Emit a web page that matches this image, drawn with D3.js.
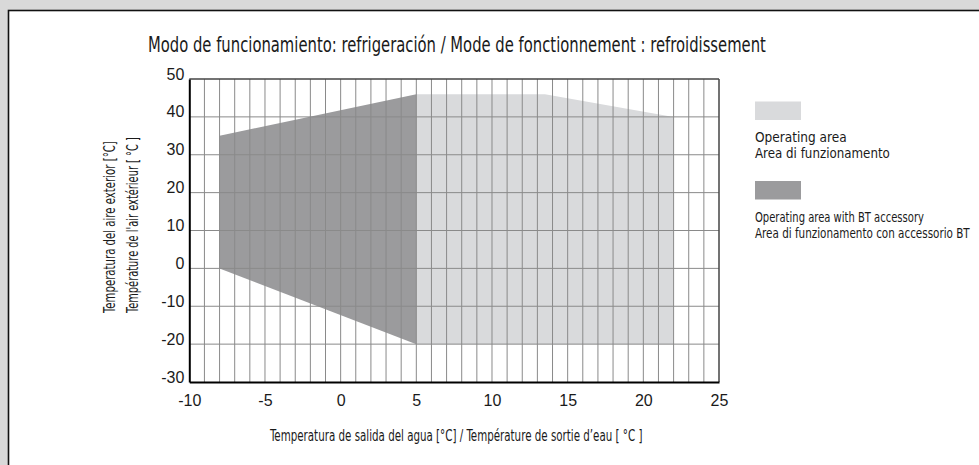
<!DOCTYPE html>
<html>
<head>
<meta charset="utf-8">
<script src="https://cdn.jsdelivr.net/npm/d3@7"></script>
<style>
  body { margin: 0; background: #d9d9d9; }
  .cond { font-family: "DejaVu Sans Condensed", "Liberation Sans Narrow", "DejaVu Sans", sans-serif; font-stretch: condensed; fill: #1a1a1a; }
  .tick text { font-family: "Liberation Sans", Arial, sans-serif; font-size: 16px; fill: #1a1a1a; }
</style>
</head>
<body>
<script>
// chart values
const xTicks = [-10, -5, 0, 5, 10, 15, 20, 25];
const yTicks = [-30, -20, -10, 0, 10, 20, 30, 40, 50];
const operatingArea = [[5, 46], [13.5, 46], [22, 40], [22, -20], [5, -20]];
const btArea = [[-8, 35], [5, 46], [5, -20], [-8, 0]];
const title = "Modo de funcionamiento: refrigeración / Mode de fonctionnement : refroidissement";
const xTitle = "Temperatura de salida del agua [°C] / Température de sortie d’eau [ °C ]";
const yTitles = ["Temperatura del aire exterior [°C]", "Température de l'air extérieur [ °C ]"];
const legendItems = [
  {color: "#d9dadc", lines: ["Operating area", "Area di funzionamento"], widths: [93, 135]},
  {color: "#9b9b9d", lines: ["Operating area with BT accessory", "Area di funzionamento con accessorio BT"], widths: [169, 215]}
];

const width = 979, height = 465;
const svg = d3.select("body").append("svg")
    .attr("width", width)
    .attr("height", height)
    .style("display", "block");

svg.append("rect").attr("width", width).attr("height", height).attr("fill", "#d9d9d9");
svg.append("rect")
    .attr("x", 8.5).attr("y", 10.5)
    .attr("width", width + 20).attr("height", height + 20)
    .attr("fill", "#fff").attr("stroke", "#111").attr("stroke-width", 1.6);

const x = d3.scaleLinear().domain([-10, 25]).range([189.3, 719]);
const y = d3.scaleLinear().domain([-30, 50]).range([382, 79]);

const line = d3.line().x(d => x(d[0])).y(d => y(d[1])).curve(d3.curveLinearClosed);

svg.append("path").datum(operatingArea).attr("d", line).attr("fill", "#d9dadc");
svg.append("path").datum(btArea).attr("d", line).attr("fill", "#9b9b9d");

// grid
svg.append("g").selectAll("line")
  .data(d3.range(-9, 25))
  .join("line")
    .attr("x1", d => x(d)).attr("x2", d => x(d))
    .attr("y1", y(50)).attr("y2", y(-30))
    .attr("stroke", "#8a8a8a").attr("stroke-width", 1);
svg.append("g").selectAll("line")
  .data(d3.range(-20, 50, 10))
  .join("line")
    .attr("x1", x(-10)).attr("x2", x(25))
    .attr("y1", d => y(d)).attr("y2", d => y(d))
    .attr("stroke", "#8a8a8a").attr("stroke-width", 1);

// frame
svg.append("line").attr("x1", x(-10)).attr("x2", x(25)).attr("y1", y(50)).attr("y2", y(50))
    .attr("stroke", "#444").attr("stroke-width", 1.5);
svg.append("line").attr("x1", x(25)).attr("x2", x(25)).attr("y1", y(50)).attr("y2", y(-30))
    .attr("stroke", "#444").attr("stroke-width", 1.5);

const fmt = d => String(d);

const xAxis = svg.append("g").attr("transform", `translate(0,${y(-30)})`)
    .call(d3.axisBottom(x).tickValues(xTicks).tickSize(0).tickPadding(9).tickFormat(fmt));
xAxis.select(".domain").attr("stroke", "#000").attr("stroke-width", 2);
xAxis.selectAll("text").attr("dy", "0.95em");

const yAxis = svg.append("g").attr("transform", `translate(${x(-10)},0)`)
    .call(d3.axisLeft(y).tickValues(yTicks).tickSize(0).tickPadding(5).tickFormat(fmt));
yAxis.select(".domain").attr("stroke", "#000").attr("stroke-width", 2);
yAxis.selectAll("text").attr("dy", "0");

// condensed text: squeeze to the target width with a horizontal scale
function condText(parent, str, px, py, size, targetW, rot) {
  const t = parent.append("text").attr("class", "cond").attr("font-size", size).text(str);
  const w = t.node().getComputedTextLength();
  const s = Math.min(1, targetW / w);
  t.attr("transform", `translate(${px},${py})${rot ? " rotate(-90)" : ""} scale(${s},1)`);
  return t;
}

condText(svg, title, 148, 52, 21, 618);
condText(svg, xTitle, 270, 441, 15, 373);
yTitles.forEach((d, i) => condText(svg, d, 115 + i * 23, 313, 15, i === 0 ? 172 : 176, true));

// legend
legendItems.forEach((d, i) => {
  const g = svg.append("g").attr("transform", `translate(755,${101.5 + i * 79.5})`);
  g.append("rect").attr("width", 46).attr("height", 18.5).attr("fill", d.color);
  d.lines.forEach((t, j) => condText(g, t, 0, 40.5 + j * 16, 13.5, d.widths[j]));
});
</script>
</body>
</html>
